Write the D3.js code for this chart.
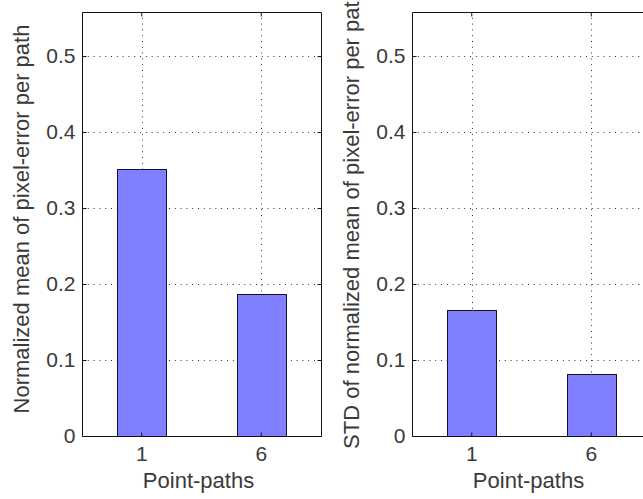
<!DOCTYPE html>
<html>
<head>
<meta charset="utf-8">
<script src="https://cdn.jsdelivr.net/npm/d3@7"></script>
<style>
  html, body { margin: 0; padding: 0; background: #fff; overflow: hidden; }
  svg { display: block; overflow: hidden; }
  text { font-family: "Liberation Sans", Arial, sans-serif; fill: #3a3a3a; }
</style>
</head>
<body>
<div id="chart"></div>
<script>
// Point-path counts shown on the x axis
const categories = ["1", "6"];
// Normalized mean of pixel-error per path
const meanValues = [0.351, 0.187];
// STD of normalized mean of pixel-error per path
const stdValues = [0.166, 0.0816];
// Shared y-axis ticks
const yTicks = [0, 0.1, 0.2, 0.3, 0.4, 0.5];
const yMax = 0.558;

const width = 643, height = 499;
const svg = d3.select("#chart").append("svg")
  .attr("width", width).attr("height", height);

const panelW = 239, panelH = 424, plotTop = 12;
const panels = [
  { left: 82,  values: meanValues, label: "Normalized mean of pixel-error per path" },
  { left: 412, values: stdValues,  label: "STD of normalized mean of pixel-error per path" }
];

const y = d3.scaleLinear().domain([0, yMax]).range([plotTop + panelH, plotTop]);

panels.forEach(p => {
  const x = d3.scaleBand().domain(categories)
    .range([p.left, p.left + panelW])
    .paddingInner(0.59).paddingOuter(0.295);
  const g = svg.append("g");
  const rightEdge = p.left + panelW;
  const rightVisible = rightEdge < width;

  // dotted grid
  const grid = g.append("g")
    .attr("stroke", "#333").attr("stroke-width", 1)
    .attr("stroke-dasharray", "1,4.8");
  grid.selectAll("line.h").data(yTicks.filter(t => t > 0)).join("line")
    .attr("x1", p.left).attr("x2", Math.min(rightEdge, width))
    .attr("y1", d => Math.round(y(d)) + 0.5).attr("y2", d => Math.round(y(d)) + 0.5);
  grid.selectAll("line.v").data(categories).join("line")
    .attr("x1", d => Math.round(x(d) + x.bandwidth() / 2) + 0.5)
    .attr("x2", d => Math.round(x(d) + x.bandwidth() / 2) + 0.5)
    .attr("y1", plotTop).attr("y2", plotTop + panelH);

  // bars
  g.selectAll("rect.bar").data(p.values).join("rect")
    .attr("class", "bar")
    .attr("x", (d, i) => Math.round(x(categories[i])) + 0.5)
    .attr("width", Math.round(x.bandwidth()))
    .attr("y", d => Math.round(y(d)) + 0.5)
    .attr("height", d => Math.round(y(0)) - Math.round(y(d)))
    .attr("fill", "#7f7fff").attr("stroke", "#111133").attr("stroke-width", 1);

  // axes with inward ticks
  const fmt = d => d === 0 ? "0" : d3.format(".1f")(d);
  const axes = [];
  axes.push(g.append("g").attr("transform", `translate(${p.left + 0.5},0)`)
    .call(d3.axisLeft(y).tickValues(yTicks).tickFormat(fmt).tickSize(-4).tickPadding(7)));
  if (rightVisible) {
    axes.push(g.append("g").attr("transform", `translate(${rightEdge + 0.5},0)`)
      .call(d3.axisRight(y).tickValues(yTicks).tickFormat("").tickSize(-4)));
  }
  axes.push(g.append("g").attr("transform", `translate(0,${plotTop + panelH + 0.5})`)
    .call(d3.axisBottom(x).tickSize(-4).tickPadding(10)));
  axes.push(g.append("g").attr("transform", `translate(0,${plotTop + 0.5})`)
    .call(d3.axisTop(x).tickFormat("").tickSize(-4)));
  axes.forEach(a => {
    a.select(".domain").remove();
    a.selectAll(".tick line").attr("stroke", "#111");
    a.selectAll("text").attr("font-size", 21)
      .attr("font-family", "Liberation Sans, Arial, sans-serif").attr("fill", "#3a3a3a");
  });

  // frame
  const l = p.left + 0.5, t = plotTop + 0.5, b = plotTop + panelH + 0.5;
  const r = Math.min(rightEdge, width) + 0.5;
  g.append("path")
    .attr("d", rightVisible
      ? `M${l},${t}H${r}V${b}H${l}Z`
      : `M${r},${t}H${l}V${b}H${r}`)
    .attr("fill", "none").attr("stroke", "#111").attr("stroke-width", 1);

  // axis titles
  g.append("text")
    .attr("x", p.left + panelW / 2 - 3).attr("y", 488)
    .attr("text-anchor", "middle").attr("font-size", 22)
    .text("Point-paths");
  g.append("text")
    .attr("transform", `translate(${p.left - 53},219) rotate(-90)`)
    .attr("text-anchor", "middle").attr("font-size", 22)
    .text(p.label);
});
</script>
</body>
</html>
